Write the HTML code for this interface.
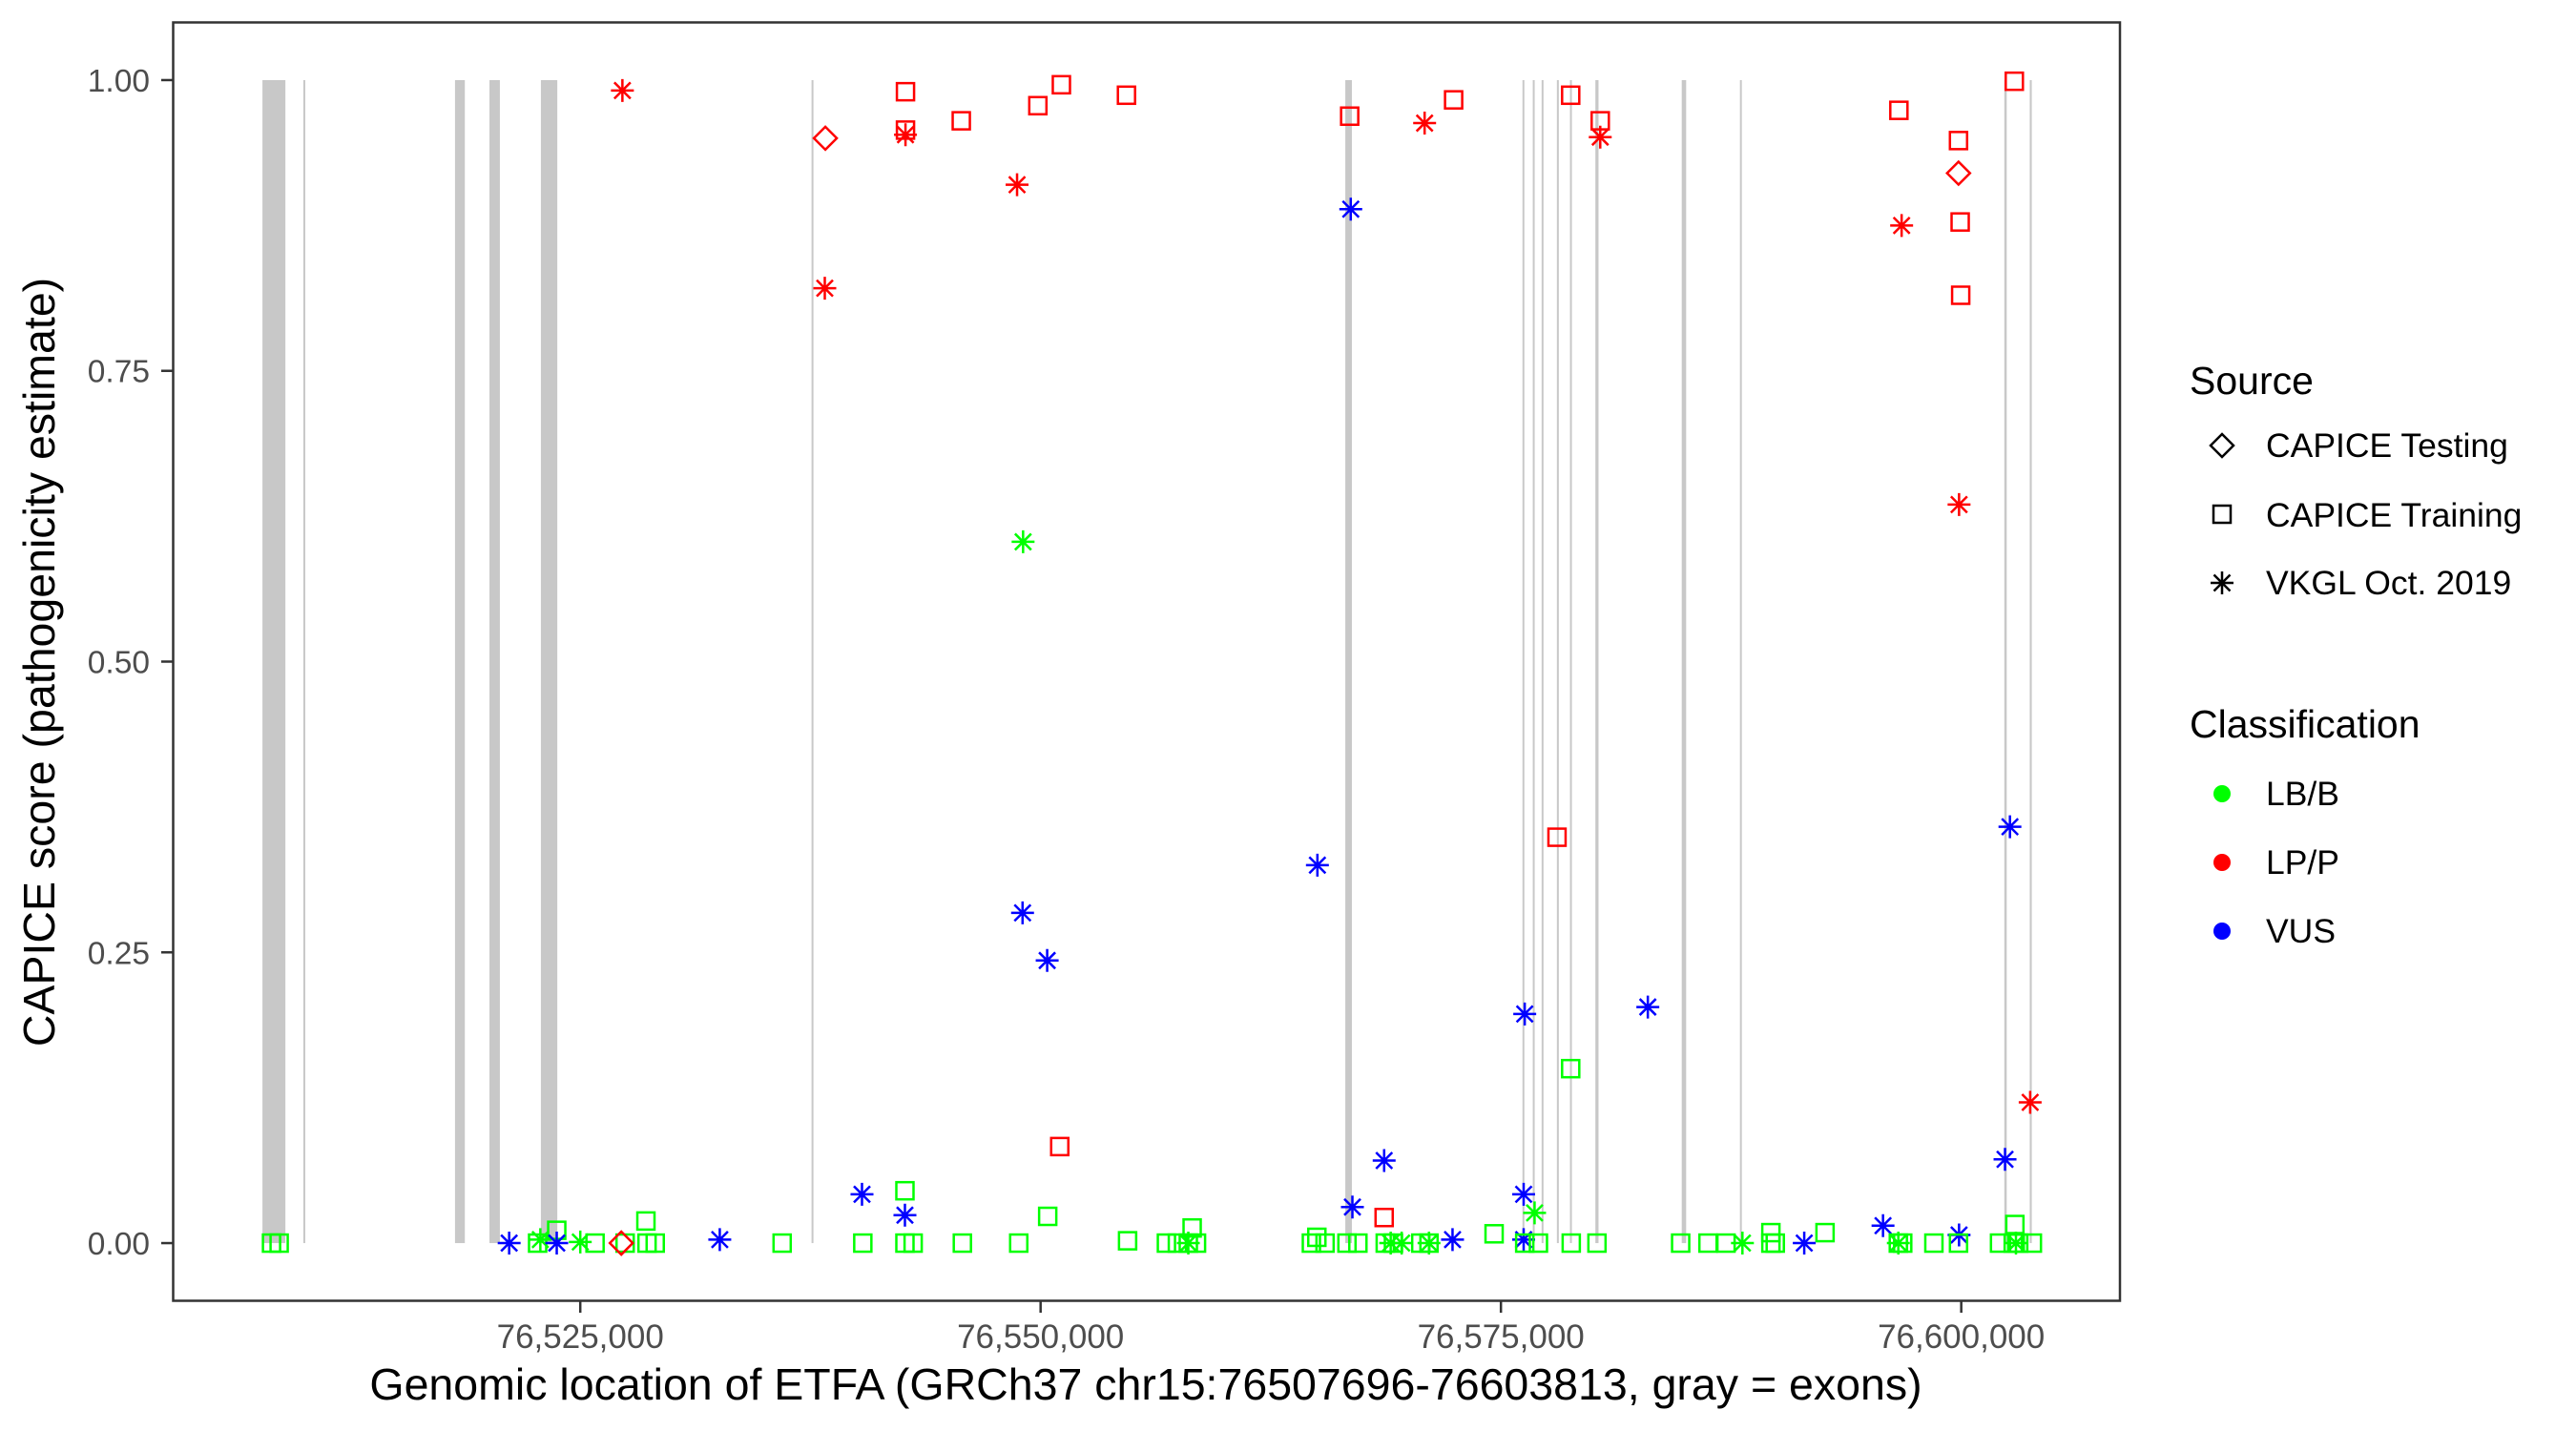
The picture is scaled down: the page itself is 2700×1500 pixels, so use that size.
<!DOCTYPE html>
<html><head><meta charset="utf-8"><style>
html,body{margin:0;padding:0;background:#fff;}
svg{display:block;font-family:"Liberation Sans",Arial,sans-serif;}
</style></head><body>
<svg id="chart" width="2700" height="1500" viewBox="0 0 2700 1500" xmlns="http://www.w3.org/2000/svg">
<rect x="0" y="0" width="2700" height="1500" fill="#fff"/>
<g id="exons"></g>
<g id="points"></g>
<rect x="181.5" y="23.5" width="2040.5" height="1340" fill="none" stroke="#333" stroke-width="2.5"/>
<g id="yaxis"></g>
<g id="xaxis"></g>
<text x="1201" y="1467" font-size="46.5" text-anchor="middle" fill="#000">Genomic location of ETFA (GRCh37 chr15:76507696-76603813, gray = exons)</text>
<text transform="translate(57,694) rotate(-90)" font-size="46.5" text-anchor="middle" fill="#000">CAPICE score (pathogenicity estimate)</text>
<g>
<text x="2295" y="413" font-size="41">Source</text>
<g>
<path d="M2329,455 L2341,467 L2329,479 L2317,467 Z" fill="none" stroke="#000" stroke-width="2.5"/>
<text x="2375" y="479" font-size="35.5">CAPICE Testing</text></g>
<g>
<rect x="2320" y="530" width="18" height="18" fill="none" stroke="#000" stroke-width="2.5"/>
<text x="2375" y="552" font-size="35.5">CAPICE Training</text></g>
<g>
<path d="M2317,611 H2341 M2329,599 V623 M2320.5,602.5 L2337.5,619.5 M2337.5,602.5 L2320.5,619.5" stroke="#000" stroke-width="2.5"/>
<text x="2375" y="623" font-size="35.5">VKGL Oct. 2019</text></g>
<text x="2295" y="773" font-size="41">Classification</text>
<g><circle cx="2329" cy="832" r="9" fill="#00ff00"/><text x="2375" y="844" font-size="35.5">LB/B</text></g>
<g><circle cx="2329" cy="904" r="9" fill="#ff0000"/><text x="2375" y="916" font-size="35.5">LP/P</text></g>
<g><circle cx="2329" cy="976" r="9" fill="#0000ff"/><text x="2375" y="988" font-size="35.5">VUS</text></g>
</g>
</svg>
<script>
const xDomain = [76502890, 76608619];
const yDomain = [-0.05, 1.05];
const xTicks = [76525000, 76550000, 76575000, 76600000];
const xTickLabels = ["76,525,000", "76,550,000", "76,575,000", "76,600,000"];
const yTicks = [0, 0.25, 0.5, 0.75, 1];
const yTickLabels = ["0.00", "0.25", "0.50", "0.75", "1.00"];
const exonStarts = [76507739,76509960,76518196,76520068,76522861,76537560,76566548,76576170,76576730,76577210,76578040,76578750,76580130,76584820,76587980,76602340,76603720];
const exonEnds   = [76508986,76510040,76518731,76520633,76523752,76537640,76566905,76576240,76576800,76577280,76578110,76578820,76580300,76585060,76588080,76602470,76603830];
const positions = [
76527288,76538310,76538280,76542662,76542662,76542662,76545692,76549851,76551129,76554664,76548722,76549049,76566786,76566845,76570856,76572431,76578789,76580394,76580394,76578046,
76565033,76549020,76550357,76576293,76582978,76578789,76551040,76568658,76540300,76542632,76542632,76550386,76566934,76568658,76576234,76576828,76574629,76558230,76565003,76572372,76576234,
76596613,76599851,76599851,76596762,76599941,76599970,76602882,76599881,76602644,76603743,76602377,76595751,76599881,76592602,76589661,76602912,76591473,
76508232,76508646,76522683,76525802,76527436,76528625,76529070,76535963,76523722,76528565,76522831,76525000,76521138,76523722,76532576,76527228,
76540344,76542632,76543078,76545751,76548812,76554724,76556833,76557428,76558022,76558467,76564706,76565449,76566638,76567232,76568717,76569163,76570648,76571094,76576293,76577036,76578819,76580216,76584761,76586246,
76558022,76569014,76569609,76571094,
76587225,76589661,76589899,76596583,76596821,76598514,76599851,76602080,76602823,76603120,76603862,
76588116,76596583,76602971];
const scores = [
0.991,0.950,0.821,0.990,0.957,0.953,0.965,0.978,0.996,0.987,0.910,0.603,0.969,0.889,0.963,0.983,0.987,0.965,0.951,0.349,
0.325,0.284,0.243,0.197,0.203,0.150,0.083,0.071,0.042,0.045,0.024,0.023,0.031,0.022,0.042,0.026,0.008,0.013,0.005,0.003,0.003,
0.974,0.948,0.920,0.875,0.878,0.815,0.999,0.635,0.358,0.121,0.072,0.015,0.007,0.009,0.009,0.016,0.0,
0,0,0,0,0,0,0,0,0.011,0.019,0.003,0.001,0,0,0.003,0,
0,0,0,0,0,0.002,0,0,0,0,0,0,0,0,0,0,0,0,0,0,0,0,0,0,
0,0,0,0,
0,0,0,0,0,0,0,0,0,0,0,
0,0,0];
const sources = [
"V","T","V","R","R","V","R","R","R","R","V","V","R","V","V","R","R","R","V","R",
"V","V","V","V","V","R","R","V","V","R","V","R","V","R","V","V","R","R","R","V","V",
"R","R","T","V","R","R","R","V","V","V","V","V","V","R","R","R","V",
"R","R","R","R","R","R","R","R","R","R","V","V","V","V","V","T",
"R","R","R","R","R","R","R","R","R","R","R","R","R","R","R","R","R","R","R","R","R","R","R","R",
"V","V","V","V",
"R","R","R","R","R","R","R","R","R","R","R",
"V","V","V"];
const classes = [
"P","P","P","P","P","P","P","P","P","P","P","B","P","U","P","P","P","P","P","P",
"U","U","U","U","U","B","P","U","U","B","U","B","U","P","U","B","B","B","B","U","U",
"P","P","P","P","P","P","P","P","U","P","U","U","U","B","B","B","U",
"B","B","B","B","B","B","B","B","B","B","B","B","U","U","U","P",
"B","B","B","B","B","B","B","B","B","B","B","B","B","B","B","B","B","B","B","B","B","B","B","B",
"B","B","B","B",
"B","B","B","B","B","B","B","B","B","B","B",
"B","B","B"];

const NS = "http://www.w3.org/2000/svg";
const PX = [181.5, 2222], PY = [1364, 23];
function xs(v){ return PX[0] + (v - xDomain[0]) / (xDomain[1] - xDomain[0]) * (PX[1] - PX[0]); }
function ys(v){ return PY[0] + (v - yDomain[0]) / (yDomain[1] - yDomain[0]) * (PY[1] - PY[0]); }
const colorMap = {B:"#00ff00", P:"#ff0000", U:"#0000ff"};
function mk(tag, attrs, parent){ const e = document.createElementNS(NS, tag); for (const k in attrs) e.setAttribute(k, attrs[k]); parent.appendChild(e); return e; }

const gEx = document.getElementById("exons");
for (let i = 0; i < exonStarts.length; i++) {
  const x0 = xs(exonStarts[i]), x1 = xs(exonEnds[i]);
  let w = Math.max(2, x1 - x0);
  const r = mk("rect", {x: x0, y: ys(1), width: w, height: ys(0) - ys(1), fill: "#c8c8c8"}, gEx);
  
  
}

const gP = document.getElementById("points");
for (let i = 0; i < positions.length; i++) {
  const cx = xs(positions[i]), cy = ys(scores[i]);
  const col = colorMap[classes[i]];
  let el;
  if (sources[i] === "R") {
    el = mk("rect", {x: cx - 9, y: cy - 9, width: 18, height: 18, fill: "none", stroke: col, "stroke-width": 2.5}, gP);
  } else if (sources[i] === "T") {
    el = mk("path", {d: `M${cx},${cy-12} L${cx+12},${cy} L${cx},${cy+12} L${cx-12},${cy} Z`, fill: "none", stroke: col, "stroke-width": 2.5}, gP);
  } else {
    const r = 12, d = 8.5;
    el = mk("path", {d: `M${cx-r},${cy} H${cx+r} M${cx},${cy-r} V${cy+r} M${cx-d},${cy-d} L${cx+d},${cy+d} M${cx+d},${cy-d} L${cx-d},${cy+d}`, stroke: col, "stroke-width": 2.5, fill: "none"}, gP);
  }
  
  
}

const gY = document.getElementById("yaxis");
for (let i = 0; i < yTicks.length; i++) {
  const y = ys(yTicks[i]);
  const t = mk("line", {x1: 169, x2: 181.5, y1: y, y2: y, stroke: "#333", "stroke-width": 2.5}, gY);
  
  
  const l = mk("text", {x: 157, y: y + 12, "font-size": 33.5, "text-anchor": "end", fill: "#4d4d4d"}, gY);
  l.textContent = yTickLabels[i];
  
  
}
const gX = document.getElementById("xaxis");
for (let i = 0; i < xTicks.length; i++) {
  const x = xs(xTicks[i]);
  const t = mk("line", {x1: x, x2: x, y1: 1364, y2: 1376, stroke: "#333", "stroke-width": 2.5}, gX);
  
  
  const l = mk("text", {x: x, y: 1413, "font-size": 35, "text-anchor": "middle", fill: "#4d4d4d"}, gX);
  l.textContent = xTickLabels[i];
  
  
}
</script>
</body></html>
